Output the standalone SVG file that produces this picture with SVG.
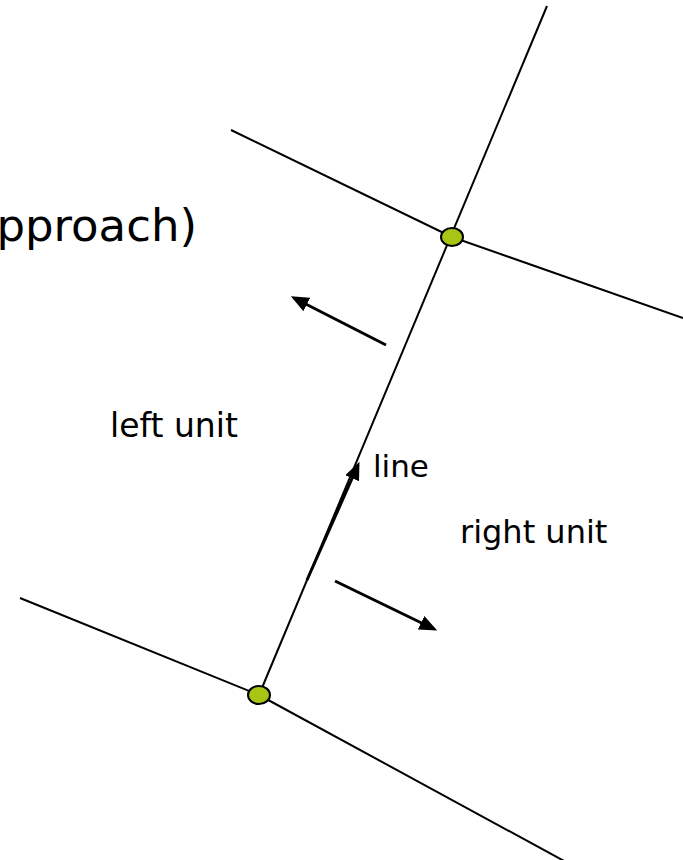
<svg xmlns="http://www.w3.org/2000/svg" width="683" height="860" viewBox="0 0 683 860">
<style>
.edge{stroke:#000;stroke-width:2;fill:none}
.arr{stroke:#000;stroke-width:3;fill:none;marker-end:url(#ah)}
.node{fill:#a8c414;stroke:#000;stroke-width:2}
.t{font-family:"DejaVu Sans",Verdana,sans-serif;fill:#000}
</style>
<defs>
<marker id="ah" viewBox="0 0 10 10" refX="8" refY="5" markerWidth="6" markerHeight="5" preserveAspectRatio="none" orient="auto" markerUnits="strokeWidth">
<path d="M0,0 L10,5 L0,10 z" fill="#000"/>
</marker>
</defs>
<rect width="683" height="860" fill="#fff"/>
<text class="t" x="197" y="241" font-size="45" text-anchor="end">pproach)</text>
<g id="connectors">
<line class="edge" x1="547" y1="6" x2="259" y2="695"/>
<line class="edge" x1="231" y1="130" x2="452" y2="237"/>
<line class="edge" x1="452" y1="237" x2="683" y2="318"/>
<line class="edge" x1="20" y1="598" x2="259" y2="695"/>
<line class="edge" x1="259" y1="695" x2="566" y2="862"/>
<line class="arr" x1="386" y1="345" x2="294" y2="298"/>
<line class="arr" x1="307" y1="580" x2="358" y2="465"/>
<line class="arr" x1="335" y1="581" x2="434" y2="629"/>
</g>
<g id="node-top"><ellipse class="node" cx="452" cy="237" rx="11" ry="9"/></g>
<g id="node-bottom"><ellipse class="node" cx="259" cy="695" rx="11" ry="9"/></g>
<g id="label-left"><text class="t" x="110" y="437" font-size="33">left unit</text></g>
<g id="label-line"><text class="t" x="373" y="477" font-size="31">line</text></g>
<g id="label-right"><text class="t" x="460" y="543" font-size="32">right unit</text></g>
</svg>
